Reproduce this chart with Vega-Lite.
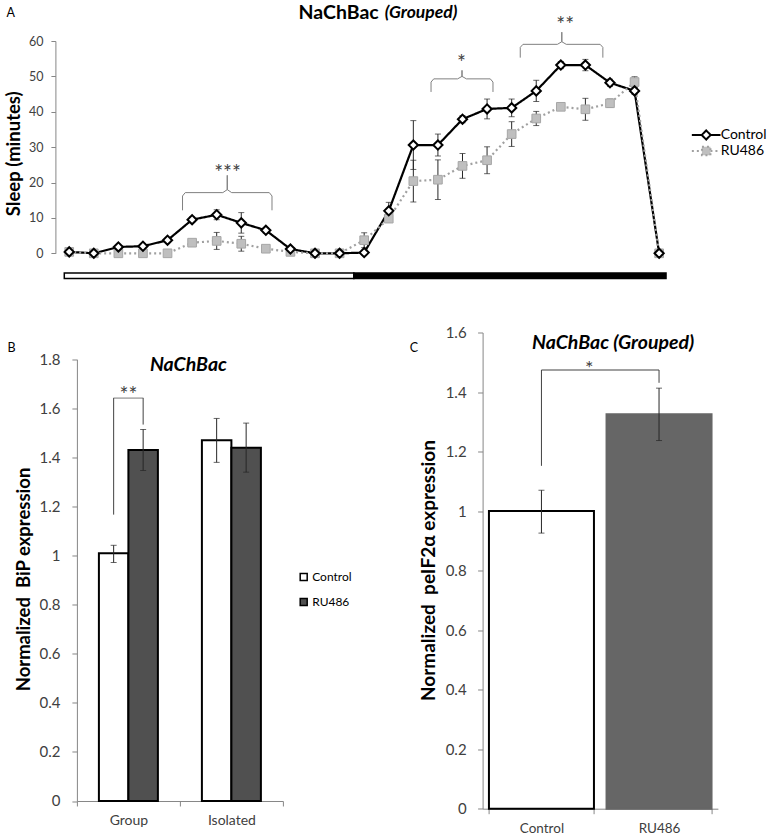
{
  "$schema": "https://vega.github.io/schema/vega-lite/v6.json",
  "padding": {"left": 3.9, "top": 2, "right": 5, "bottom": 5},
  "datasets": {
    "sleep": [
      {"hour": 0, "series": "Control", "sleep": 0.4, "err": 0.3},
      {"hour": 1, "series": "Control", "sleep": 0, "err": 0},
      {"hour": 2, "series": "Control", "sleep": 1.8, "err": 0.3},
      {"hour": 3, "series": "Control", "sleep": 2.0, "err": 0.3},
      {"hour": 4, "series": "Control", "sleep": 3.7, "err": 0.5},
      {"hour": 5, "series": "Control", "sleep": 9.5, "err": 0.8},
      {"hour": 6, "series": "Control", "sleep": 10.9, "err": 1.4},
      {"hour": 7, "series": "Control", "sleep": 8.6, "err": 2.9},
      {"hour": 8, "series": "Control", "sleep": 6.5, "err": 0.8},
      {"hour": 9, "series": "Control", "sleep": 1.2, "err": 0.3},
      {"hour": 10, "series": "Control", "sleep": 0, "err": 0},
      {"hour": 11, "series": "Control", "sleep": 0, "err": 0},
      {"hour": 12, "series": "Control", "sleep": 0.2, "err": 0.2},
      {"hour": 13, "series": "Control", "sleep": 12.0, "err": 2.4},
      {"hour": 14, "series": "Control", "sleep": 30.6, "err": 6.9},
      {"hour": 15, "series": "Control", "sleep": 30.6, "err": 3.1},
      {"hour": 16, "series": "Control", "sleep": 37.9, "err": 1.0},
      {"hour": 17, "series": "Control", "sleep": 40.8, "err": 2.8},
      {"hour": 18, "series": "Control", "sleep": 41.1, "err": 2.5},
      {"hour": 19, "series": "Control", "sleep": 45.9, "err": 3.0},
      {"hour": 20, "series": "Control", "sleep": 53.2, "err": 1.0},
      {"hour": 21, "series": "Control", "sleep": 53.2, "err": 1.6},
      {"hour": 22, "series": "Control", "sleep": 48.2, "err": 1.0},
      {"hour": 23, "series": "Control", "sleep": 45.9, "err": 1.0},
      {"hour": 24, "series": "Control", "sleep": 0, "err": 0},
      {"hour": 0, "series": "RU486", "sleep": 0.4, "err": 0.3},
      {"hour": 1, "series": "RU486", "sleep": 0, "err": 0},
      {"hour": 2, "series": "RU486", "sleep": 0, "err": 0},
      {"hour": 3, "series": "RU486", "sleep": 0, "err": 0},
      {"hour": 4, "series": "RU486", "sleep": 0, "err": 0},
      {"hour": 5, "series": "RU486", "sleep": 3.0, "err": 0.8},
      {"hour": 6, "series": "RU486", "sleep": 3.5, "err": 2.4},
      {"hour": 7, "series": "RU486", "sleep": 2.7, "err": 2.1},
      {"hour": 8, "series": "RU486", "sleep": 1.3, "err": 0.5},
      {"hour": 9, "series": "RU486", "sleep": 0.4, "err": 0.3},
      {"hour": 10, "series": "RU486", "sleep": 0, "err": 0},
      {"hour": 11, "series": "RU486", "sleep": 0, "err": 0},
      {"hour": 12, "series": "RU486", "sleep": 3.7, "err": 2.1},
      {"hour": 13, "series": "RU486", "sleep": 9.8, "err": 1.0},
      {"hour": 14, "series": "RU486", "sleep": 20.4, "err": 5.9},
      {"hour": 15, "series": "RU486", "sleep": 20.8, "err": 5.6},
      {"hour": 16, "series": "RU486", "sleep": 24.7, "err": 3.5},
      {"hour": 17, "series": "RU486", "sleep": 26.3, "err": 3.8},
      {"hour": 18, "series": "RU486", "sleep": 33.7, "err": 3.5},
      {"hour": 19, "series": "RU486", "sleep": 38.1, "err": 2.0},
      {"hour": 20, "series": "RU486", "sleep": 41.4, "err": 1.0},
      {"hour": 21, "series": "RU486", "sleep": 40.7, "err": 3.1},
      {"hour": 22, "series": "RU486", "sleep": 42.4, "err": 1.2},
      {"hour": 23, "series": "RU486", "sleep": 48.4, "err": 1.5},
      {"hour": 24, "series": "RU486", "sleep": 0, "err": 0}
    ],
    "bip": [
      {"grp": "Group", "cond": "Control", "value": 1.01, "lo": 0.972, "hi": 1.042},
      {"grp": "Group", "cond": "RU486", "value": 1.43, "lo": 1.347, "hi": 1.514},
      {"grp": "Isolated", "cond": "Control", "value": 1.47, "lo": 1.38, "hi": 1.559},
      {"grp": "Isolated", "cond": "RU486", "value": 1.44, "lo": 1.34, "hi": 1.54}
    ],
    "peif": [
      {"cond": "Control", "value": 1.0, "lo": 0.926, "hi": 1.07},
      {"cond": "RU486", "value": 1.325, "lo": 1.237, "hi": 1.413}
    ]
  },
  "bounds": "flush",
  "spacing": 78.5,
  "resolve": {
    "scale": {"fill": "independent", "stroke": "independent", "strokeDash": "independent"},
    "legend": {"fill": "independent", "stroke": "independent", "strokeDash": "independent"}
  },
  "vconcat": [
    {
      "width": 641,
      "height": 212.3,
      "layer": [
        {
          "data": {"values": [
            {"phase": "light", "start": -0.2, "end": 11.58},
            {"phase": "dark", "start": 11.58, "end": 24.28}
          ]},
          "mark": {"type": "rect", "stroke": "black", "strokeWidth": 1.5},
          "encoding": {
            "x": {"field": "start", "type": "quantitative",
              "scale": {"domain": [0.313, 26.39], "nice": false, "zero": false},
              "axis": {"orient": "top", "domain": false, "ticks": false, "labels": false,
                "title": "NaChBac", "titleX": 301.3, "titleY": -29, "titleAlign": "right",
                "titleBaseline": "middle", "titleAngle": 0, "titleFontSize": 19.5,
                "titleFontWeight": "bold", "titleColor": "black"}},
            "x2": {"field": "end"},
            "y": {"datum": -5.6, "type": "quantitative",
              "scale": {"domain": [0, 60], "nice": false, "zero": false},
              "axis": {"orient": "left", "offset": 21.5, "values": [0, 10, 20, 30, 40, 50, 60],
                "tickSize": 4.5, "labelPadding": 8, "labelFontSize": 12.5,
                "title": "Sleep (minutes)", "titleX": -42, "titleY": 112.3,
                "titleAngle": -90, "titleAlign": "center", "titleBaseline": "middle",
                "titleFontSize": 18.5, "titleFontWeight": "bold", "titleColor": "black"}},
            "y2": {"datum": -7.1},
            "fill": {"field": "phase", "type": "nominal",
              "scale": {"domain": ["light", "dark"], "range": ["white", "black"]}, "legend": null}
          }
        },
        {
          "data": {"name": "sleep"},
          "transform": [{"filter": "datum.err > 0"}],
          "mark": {"type": "errorbar", "ticks": {"size": 6, "color": "#262626"}, "rule": {"color": "#262626", "strokeWidth": 1}},
          "encoding": {
            "x": {"field": "hour", "type": "quantitative", "axis": null},
            "y": {"field": "sleep", "type": "quantitative", "axis": null},
            "yError": {"field": "err"},
            "detail": {"field": "series"}
          }
        },
        {
          "data": {"name": "sleep"},
          "mark": {"type": "line", "strokeWidth": 2.2, "strokeCap": "butt"},
          "encoding": {
            "x": {"field": "hour", "type": "quantitative", "axis": null},
            "y": {"field": "sleep", "type": "quantitative", "axis": null},
            "stroke": {"field": "series", "type": "nominal",
              "scale": {"domain": ["Control", "RU486"], "range": ["black", "#a0a0a0"]},
              "legend": {"orient": "none", "legendX": 622.3, "legendY": 87, "title": null,
                "padding": 0, "labelFontSize": 14, "labelColor": "black", "labelOffset": 7.5,
                "rowPadding": -4.2, "symbolSize": 100, "symbolStrokeWidth": 2,
                "encode": {"symbols": {"update": {
                  "shape": {"signal": "datum.value === 'Control' ? 'M-2.87,0H-0.9M0.9,0H2.87M0,-0.9L0.9,0L0,0.9L-0.9,0Z' : 'M-2.87,0H-0.85M0.85,0H2.87M-0.85,-0.85H0.85V0.85H-0.85Z'"},
                  "fill": {"signal": "datum.value === 'Control' ? 'white' : '#bfbfbf'"},
                  "stroke": {"signal": "datum.value === 'Control' ? 'black' : '#a0a0a0'"},
                  "strokeDash": {"signal": "datum.value === 'Control' ? [1,0] : [2,2]"},
                  "strokeWidth": {"value": 2},
                  "opacity": {"value": 1},
                  "fillOpacity": {"value": 1}
                }}}}},
            "strokeDash": {"field": "series", "type": "nominal",
              "scale": {"domain": ["Control", "RU486"], "range": [[1, 0], [2, 3]]}, "legend": null}
          }
        },
        {
          "data": {"name": "sleep"},
          "transform": [{"filter": "datum.series === 'RU486'"}],
          "mark": {"type": "point", "shape": "square", "size": 75, "filled": true,
            "fill": "#bfbfbf", "stroke": "#a6a6a6", "strokeWidth": 1, "opacity": 1},
          "encoding": {
            "x": {"field": "hour", "type": "quantitative", "axis": null},
            "y": {"field": "sleep", "type": "quantitative", "axis": null}
          }
        },
        {
          "data": {"name": "sleep"},
          "transform": [{"filter": "datum.series === 'Control'"}],
          "mark": {"type": "point", "shape": "diamond", "size": 85, "filled": true,
            "fill": "white", "stroke": "black", "strokeWidth": 2, "opacity": 1},
          "encoding": {
            "x": {"field": "hour", "type": "quantitative", "axis": null},
            "y": {"field": "sleep", "type": "quantitative", "axis": null}
          }
        },
        {
          "data": {"values": [
            {"br": "a", "ord": 1, "x": 4.61, "y": 12.15},
            {"br": "a", "ord": 2, "x": 4.61, "y": 16.2},
            {"br": "a", "ord": 3, "x": 4.72, "y": 17.15},
            {"br": "a", "ord": 4, "x": 6.25, "y": 17.15},
            {"br": "a", "ord": 5, "x": 6.43, "y": 18.0},
            {"br": "a", "ord": 6, "x": 6.43, "y": 22.04},
            {"br": "a", "ord": 7, "x": 6.43, "y": 18.0},
            {"br": "a", "ord": 8, "x": 6.61, "y": 17.15},
            {"br": "a", "ord": 9, "x": 8.14, "y": 17.15},
            {"br": "a", "ord": 10, "x": 8.25, "y": 16.2},
            {"br": "a", "ord": 11, "x": 8.25, "y": 12.15},
            {"br": "b", "ord": 1, "x": 14.72, "y": 45.6},
            {"br": "b", "ord": 2, "x": 14.72, "y": 48.4},
            {"br": "b", "ord": 3, "x": 14.83, "y": 49.3},
            {"br": "b", "ord": 4, "x": 15.8, "y": 49.3},
            {"br": "b", "ord": 5, "x": 15.98, "y": 50.0},
            {"br": "b", "ord": 6, "x": 15.98, "y": 51.7},
            {"br": "b", "ord": 7, "x": 15.98, "y": 50.0},
            {"br": "b", "ord": 8, "x": 16.16, "y": 49.3},
            {"br": "b", "ord": 9, "x": 17.13, "y": 49.3},
            {"br": "b", "ord": 10, "x": 17.24, "y": 48.4},
            {"br": "b", "ord": 11, "x": 17.24, "y": 45.6},
            {"br": "c", "ord": 1, "x": 18.35, "y": 55.3},
            {"br": "c", "ord": 2, "x": 18.35, "y": 58.2},
            {"br": "c", "ord": 3, "x": 18.46, "y": 59.06},
            {"br": "c", "ord": 4, "x": 19.86, "y": 59.06},
            {"br": "c", "ord": 5, "x": 20.04, "y": 59.8},
            {"br": "c", "ord": 6, "x": 20.04, "y": 62.5},
            {"br": "c", "ord": 7, "x": 20.04, "y": 59.8},
            {"br": "c", "ord": 8, "x": 20.22, "y": 59.06},
            {"br": "c", "ord": 9, "x": 21.6, "y": 59.06},
            {"br": "c", "ord": 10, "x": 21.71, "y": 58.2},
            {"br": "c", "ord": 11, "x": 21.71, "y": 55.3}
          ]},
          "mark": {"type": "line", "color": "#7f7f7f", "strokeWidth": 1},
          "encoding": {
            "x": {"field": "x", "type": "quantitative",
              "axis": {"orient": "bottom", "domain": false, "ticks": false, "labels": false,
                "title": "A", "titleX": -71, "titleY": -241.3, "titleAlign": "left",
                "titleBaseline": "middle", "titleAngle": 0, "titleFontSize": 12.5,
                "titleFontWeight": "normal", "titleColor": "black"}},
            "y": {"field": "y", "type": "quantitative",
              "axis": {"orient": "right", "domain": false, "ticks": false, "labels": false,
                "title": "(Grouped)", "titleX": -333.7, "titleY": -29, "titleAlign": "left",
                "titleBaseline": "middle", "titleAngle": 0, "titleFontSize": 17.5,
                "titleFontWeight": "bold", "titleFontStyle": "italic", "titleColor": "black"}},
            "detail": {"field": "br"},
            "order": {"field": "ord"}
          }
        },
        {
          "data": {"values": [
            {"x": 6.44, "y": 20.8, "t": "***"},
            {"x": 15.96, "y": 51.9, "t": "*"},
            {"x": 20.18, "y": 62.5, "t": "**"}
          ]},
          "mark": {"type": "text", "fontSize": 21, "color": "#404040", "baseline": "alphabetic"},
          "encoding": {
            "x": {"field": "x", "type": "quantitative", "axis": null},
            "y": {"field": "y", "type": "quantitative", "axis": null},
            "text": {"field": "t"}
          }
        }
      ],
      "resolve": {"axis": {"x": "independent", "y": "independent"}}
    },
    {
      "bounds": "flush",
      "spacing": 199.7,
      "resolve": {
        "scale": {"fill": "independent", "stroke": "independent"},
        "legend": {"fill": "independent", "stroke": "independent"}
      },
      "hconcat": [
        {
          "width": 206,
          "height": 468.5,
          "data": {"name": "bip"},
          "layer": [
            {
              "mark": {"type": "bar", "stroke": "black", "strokeWidth": 2},
              "encoding": {
                "x": {"field": "grp", "type": "nominal",
                  "scale": {"paddingInner": 0, "paddingOuter": 0},
                  "axis": {"orient": "bottom", "labelAngle": 0, "tickBand": "extent", "tickSize": 5,
                    "labelPadding": 8, "labelFontSize": 14,
                    "title": "B", "titleX": -70, "titleY": -454, "titleAlign": "left",
                    "titleBaseline": "middle", "titleAngle": 0, "titleFontSize": 12.5,
                    "titleFontWeight": "normal", "titleColor": "black"}},
                "xOffset": {"field": "cond", "type": "nominal",
                  "scale": {"paddingInner": 0, "paddingOuter": 0.746}},
                "y": {"field": "value", "type": "quantitative",
                  "scale": {"domain": [0, 1.8], "range": [468.5, 26.8], "nice": false},
                  "axis": {"orient": "left", "values": [0, 0.2, 0.4, 0.6, 0.8, 1, 1.2, 1.4, 1.6, 1.8],
                    "format": ".1~f", "tickSize": 5, "labelPadding": 12, "labelFontSize": 15,
                    "title": "Normalized \u00a0BiP expression", "titleX": -53, "titleY": 246.5,
                    "titleAngle": -90, "titleAlign": "center", "titleBaseline": "middle",
                    "titleFontSize": 18.5, "titleFontWeight": "bold", "titleColor": "black"}},
                "fill": {"field": "cond", "type": "nominal",
                  "scale": {"domain": ["Control", "RU486"], "range": ["white", "#505050"]},
                  "legend": {"orient": "none", "legendX": 220.8, "legendY": 238.5, "title": null,
                    "padding": 0, "symbolType": "square", "symbolSize": 49,
                    "symbolStrokeColor": "black", "symbolStrokeWidth": 1.5,
                    "labelFontSize": 12, "labelColor": "black", "labelOffset": 2.5, "rowPadding": 11}}
              }
            },
            {
              "mark": {"type": "rule", "color": "#262626", "strokeWidth": 1},
              "encoding": {
                "x": {"field": "grp", "type": "nominal", "axis": null},
                "xOffset": {"field": "cond", "type": "nominal"},
                "y": {"field": "lo", "type": "quantitative", "axis": null},
                "y2": {"field": "hi"}
              }
            },
            {
              "mark": {"type": "tick", "color": "#262626", "thickness": 1, "size": 6, "orient": "horizontal"},
              "encoding": {
                "x": {"field": "grp", "type": "nominal", "axis": null},
                "xOffset": {"field": "cond", "type": "nominal"},
                "y": {"field": "lo", "type": "quantitative", "axis": null}
              }
            },
            {
              "mark": {"type": "tick", "color": "#262626", "thickness": 1, "size": 6, "orient": "horizontal"},
              "encoding": {
                "x": {"field": "grp", "type": "nominal", "axis": null},
                "xOffset": {"field": "cond", "type": "nominal"},
                "y": {"field": "hi", "type": "quantitative", "axis": null}
              }
            },
            {
              "data": {"values": [
                {"grp": "Group", "cond": "Control", "y1": 1.167, "y2": 1.642},
                {"grp": "Group", "cond": "RU486", "y1": 1.534, "y2": 1.642}
              ]},
              "mark": {"type": "rule", "color": "#404040", "strokeWidth": 1},
              "encoding": {
                "x": {"field": "grp", "type": "nominal", "axis": null},
                "xOffset": {"field": "cond", "type": "nominal"},
                "y": {"field": "y1", "type": "quantitative", "axis": null},
                "y2": {"field": "y2"}
              }
            },
            {
              "data": {"values": [{"grp": "Group", "y": 1.642}]},
              "mark": {"type": "tick", "color": "#404040", "thickness": 1, "size": 30, "orient": "horizontal"},
              "encoding": {
                "x": {"field": "grp", "type": "nominal", "axis": null},
                "y": {"field": "y", "type": "quantitative", "axis": null}
              }
            },
            {
              "data": {"values": [{"grp": "Group", "y": 1.625, "t": "**"}]},
              "mark": {"type": "text", "fontSize": 21, "color": "#404040", "baseline": "alphabetic"},
              "encoding": {
                "x": {"field": "grp", "type": "nominal", "axis": null},
                "y": {"field": "y", "type": "quantitative",
                  "axis": {"orient": "right", "domain": false, "ticks": false, "labels": false,
                    "title": "NaChBac", "titleX": -95, "titleY": 31.8, "titleAlign": "center",
                    "titleBaseline": "middle", "titleAngle": 0, "titleFontSize": 19.5,
                    "titleFontWeight": "bold", "titleFontStyle": "italic", "titleColor": "black"}},
                "text": {"field": "t"}
              }
            }
          ],
          "resolve": {"axis": {"x": "independent", "y": "independent"}}
        },
        {
          "width": 235.3,
          "height": 476.2,
          "data": {"name": "peif"},
          "layer": [
            {
              "mark": {"type": "bar", "strokeWidth": 2},
              "encoding": {
                "x": {"field": "cond", "type": "nominal",
                  "scale": {"paddingInner": 0.107, "paddingOuter": 0.054},
                  "axis": {"orient": "bottom", "labelAngle": 0, "tickBand": "extent", "tickSize": 5,
                    "labelPadding": 8, "labelFontSize": 13.5,
                    "title": "C", "titleX": -73.4, "titleY": -461.7, "titleAlign": "left",
                    "titleBaseline": "middle", "titleAngle": 0, "titleFontSize": 12.5,
                    "titleFontWeight": "normal", "titleColor": "black"}},
                "y": {"field": "value", "type": "quantitative",
                  "scale": {"domain": [0, 1.6], "nice": false},
                  "axis": {"orient": "left", "values": [0, 0.2, 0.4, 0.6, 0.8, 1, 1.2, 1.4, 1.6],
                    "format": ".1~f", "tickSize": 5, "labelPadding": 11.5, "labelFontSize": 15,
                    "title": "Normalized \u00a0peIF2α expression", "titleX": -53.7, "titleY": 237.5,
                    "titleAngle": -90, "titleAlign": "center", "titleBaseline": "middle",
                    "titleFontSize": 19, "titleFontWeight": "bold", "titleColor": "black"}},
                "fill": {"field": "cond", "type": "nominal",
                  "scale": {"domain": ["Control", "RU486"], "range": ["white", "#666666"]}, "legend": null},
                "stroke": {"field": "cond", "type": "nominal",
                  "scale": {"domain": ["Control", "RU486"], "range": ["black", "#666666"]}, "legend": null}
              }
            },
            {
              "mark": {"type": "rule", "color": "#262626", "strokeWidth": 1},
              "encoding": {
                "x": {"field": "cond", "type": "nominal", "axis": null},
                "y": {"field": "lo", "type": "quantitative", "axis": null},
                "y2": {"field": "hi"}
              }
            },
            {
              "mark": {"type": "tick", "color": "#262626", "thickness": 1, "size": 6, "orient": "horizontal"},
              "encoding": {
                "x": {"field": "cond", "type": "nominal", "axis": null},
                "y": {"field": "lo", "type": "quantitative", "axis": null}
              }
            },
            {
              "mark": {"type": "tick", "color": "#262626", "thickness": 1, "size": 6, "orient": "horizontal"},
              "encoding": {
                "x": {"field": "cond", "type": "nominal", "axis": null},
                "y": {"field": "hi", "type": "quantitative", "axis": null}
              }
            },
            {
              "data": {"values": [
                {"cond": "Control", "y1": 1.152, "y2": 1.474},
                {"cond": "RU486", "y1": 1.431, "y2": 1.474}
              ]},
              "mark": {"type": "rule", "color": "#404040", "strokeWidth": 1},
              "encoding": {
                "x": {"field": "cond", "type": "nominal", "axis": null},
                "y": {"field": "y1", "type": "quantitative", "axis": null},
                "y2": {"field": "y2"}
              }
            },
            {
              "data": {"values": [{"from": "Control", "to": "RU486", "y": 1.474}]},
              "mark": {"type": "rule", "color": "#404040", "strokeWidth": 1},
              "encoding": {
                "x": {"field": "from", "type": "nominal", "axis": null},
                "x2": {"field": "to"},
                "y": {"field": "y", "type": "quantitative", "axis": null}
              }
            },
            {
              "data": {"values": [{"cond": "Control", "y": 1.456, "t": "*"}]},
              "mark": {"type": "text", "fontSize": 20, "color": "#404040", "baseline": "alphabetic"},
              "encoding": {
                "x": {"field": "cond", "type": "nominal", "axis": null, "bandPosition": 0.955},
                "y": {"field": "y", "type": "quantitative",
                  "axis": {"orient": "right", "domain": false, "ticks": false, "labels": false,
                    "title": "NaChBac (Grouped)", "titleX": -105.3, "titleY": 10.2, "titleAlign": "center",
                    "titleBaseline": "middle", "titleAngle": 0, "titleFontSize": 19.5,
                    "titleFontWeight": "bold", "titleFontStyle": "italic", "titleColor": "black"}},
                "text": {"field": "t"}
              }
            }
          ],
          "resolve": {"axis": {"x": "independent", "y": "independent"}}
        }
      ]
    }
  ],
  "config": {
    "font": "Lato",
    "view": {"stroke": null},
    "axis": {"grid": false, "domainColor": "#868686", "tickColor": "#868686", "labelColor": "#404040",
      "labelFont": "Lato", "titleFont": "Lato"},
    "legend": {"labelFont": "Lato"},
    "text": {"font": "Lato"}
  }
}
